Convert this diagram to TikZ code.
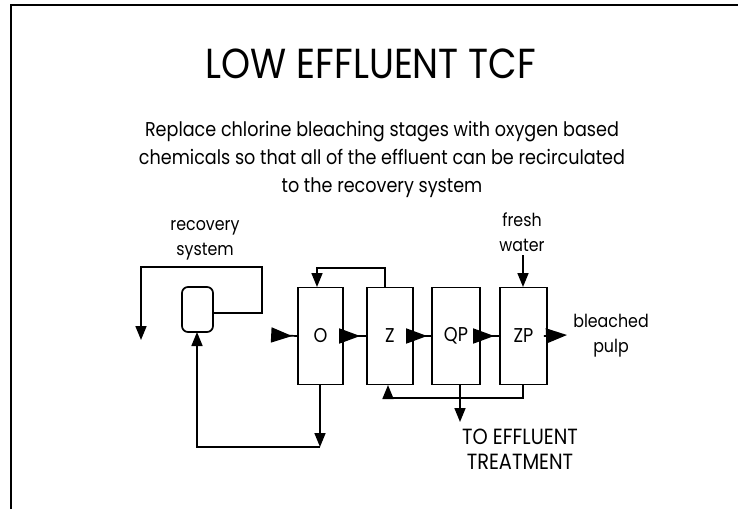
\documentclass[tikz,border=0pt]{standalone}
\usepackage{fontspec}
\setmainfont{Poppins}[FakeStretch=0.88]
\usetikzlibrary{arrows.meta}
\begin{document}
\begin{tikzpicture}[x=1pt,y=-1pt,
  line width=1.7pt,
  stage/.style={draw,minimum width=46pt,minimum height=97pt,inner sep=0pt,font=\fontsize{20}{20}\selectfont},
  vessel/.style={draw,rounded corners=6pt,minimum width=31pt,minimum height=45pt,inner sep=0pt},
  lbl/.style={align=center,font=\fontsize{18}{25}\selectfont,inner sep=0pt},
  big/.style={-{Triangle[length=21pt,width=15pt]}},
  sml/.style={-{Triangle[length=14pt,width=11pt]}}]
\useasboundingbox (0,0) rectangle (738,509);
% frame
\draw[line width=1.8pt] (11,509) -- (11,5) -- (738,5);
% title
\node[font=\fontsize{42}{42}\selectfont,inner sep=0pt] (title) at (371,64) {LOW EFFLUENT TCF};
\node[align=center,font=\fontsize{20}{28}\selectfont,inner sep=0pt] (sub) at (382,159)
  {Replace chlorine bleaching stages with oxygen based\\chemicals so that all of the effluent can be recirculated\\to the recovery system};
% stages
\node[stage,minimum width=45pt] (O) at (320.5,336) {O};
\node[stage] (Z) at (390,336) {Z};
\node[stage,minimum width=48pt] (QP) at (456,336) {QP};
\node[stage,minimum width=47pt] (ZP) at (523.5,336) {ZP};
\node[vessel] (V) at (197.5,309.5) {};
% labels
\node[lbl] (rec) at (205,240) {recovery\\system};
\node[lbl] (fw) at (522,232) {fresh\\water};
\node[lbl] (bp) at (611,336) {bleached\\pulp};
\node[lbl,font=\fontsize{22}{25}\selectfont] (eff) at (520,449) {TO EFFLUENT\\TREATMENT};
% coordinates
\coordinate (in) at (272,335);
\coordinate (out) at (567,335);
\coordinate (ztop) at (385,287);
\coordinate (otop) at (317,287);
\coordinate (zbot) at (388,385);
\coordinate (zpbot) at (523,385);
\coordinate (qpbot) at (460,385);
\coordinate (effend) at (460,422);
\coordinate (obot) at (320,385);
\coordinate (corner) at (320,447);
\coordinate (vbot) at (197,332);
\coordinate (vright) at (213,313);
\coordinate (recend) at (141,340);
\coordinate (fwstart) at (523,255);
\coordinate (zptop) at (523,287);
% connectors (line to the box, triangle just before it)
\draw (in) -- (O.west);
\draw[big] (in) -- ([xshift=-5pt]O.west);
\draw (O.east) -- (Z.west);
\draw[big] ([xshift=-4pt]O.east) -- ([xshift=-6pt]Z.west);
\draw (Z.east) -- (QP.west);
\draw[big] ([xshift=-4pt]Z.east) -- ([xshift=-4pt]QP.west);
\draw (QP.east) -- (ZP.west);
\draw[big] ([xshift=-4pt]QP.east) -- ([xshift=-5pt]ZP.west);
\draw[big] ([xshift=-4pt]ZP.east) -- (out);
\draw[sml] (ztop) -- (385,268) -- (317,268) -- (otop);
\draw[sml] (zpbot) -- (523,398) -- (388,398) -- (zbot);
\draw[sml] (qpbot) -- (effend);
\draw[sml] (obot) -- (corner);
\draw[sml] (corner) -- (197,447) -- (vbot);
\draw[sml] (vright) -- (262,313) -- (262,267) -- (141,267) -- (recend);
\draw[sml] (fwstart) -- (zptop);
\end{tikzpicture}
\end{document}
